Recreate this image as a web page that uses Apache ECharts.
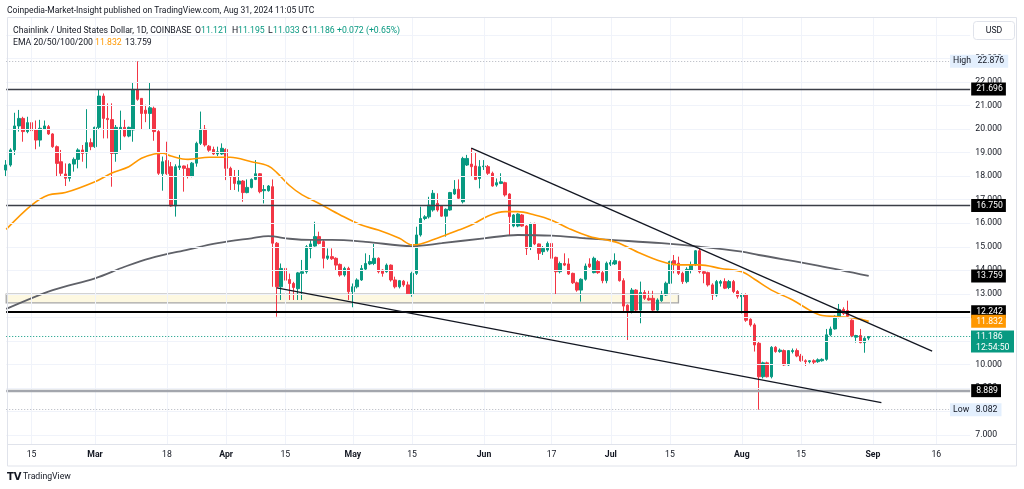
<!DOCTYPE html>
<html><head><meta charset="utf-8">
<script src="https://cdn.jsdelivr.net/npm/echarts@6/dist/echarts.min.js"></script>
<style>html,body{margin:0;padding:0;background:#fff;}#c{width:1024px;height:489px;}</style>
</head><body><div id="c"></div>
<script>
// ---------- data ----------
const startDate = '2024-02-09';
const axisDays = 229; // Feb 9 .. Sep 24 (empty space on the right)
const tickDates = ['2024-02-15','2024-03-01','2024-03-18','2024-04-01','2024-04-15','2024-05-01','2024-05-15','2024-06-01','2024-06-17','2024-07-01','2024-07-15','2024-08-01','2024-08-15','2024-09-01','2024-09-16'];

const opens = [
18.26,18.47,19.11,20.13,20.45,19.89,20.27,19.96,19.53,19.99,
20.10,19.79,19.25,18.61,18.09,17.91,18.51,18.71,19.11,18.98,
19.42,19.25,20.07,21.40,20.45,20.40,18.96,19.99,20.07,19.70,
19.96,21.68,21.30,20.80,20.66,20.88,19.89,18.10,18.66,18.40,
16.73,18.37,18.43,18.33,18.00,18.55,19.39,19.99,19.27,19.13,
18.94,18.94,19.13,18.33,17.97,17.66,17.79,17.30,17.52,17.86,
18.10,17.38,17.38,17.55,15.15,13.30,14.08,13.61,13.44,13.22,
13.87,13.94,14.93,15.03,15.43,15.22,14.51,14.58,14.51,14.25,
13.80,14.08,13.09,13.30,13.59,14.05,14.27,14.29,14.51,14.01,
13.94,14.22,13.59,13.30,13.54,13.38,13.00,13.87,15.50,16.20,
16.27,16.56,16.84,16.73,16.30,16.56,17.24,17.44,16.91,18.47,
18.51,18.43,17.90,18.40,18.40,18.12,17.62,17.69,17.72,17.24,
15.88,15.88,16.35,15.88,14.98,15.99,15.12,14.79,14.86,15.14,
14.55,13.94,14.29,14.27,13.87,13.47,13.16,13.62,14.27,13.90,
14.37,13.90,13.56,14.26,14.27,14.37,13.56,12.52,12.29,13.16,
12.31,13.06,12.81,12.81,12.31,12.71,12.95,13.45,14.41,14.30,
13.87,13.52,14.01,14.23,14.83,13.94,13.90,13.38,12.95,13.45,
13.52,13.27,13.52,13.10,12.88,12.95,11.92,11.68,10.90,9.48,
10.07,9.48,10.73,10.55,10.59,9.98,10.55,10.59,10.36,10.16,
10.12,10.16,10.12,10.16,10.22,11.26,11.51,12.03,12.34,12.29,
11.88,11.16,11.23,10.93,11.121];

const highs = [
18.68,19.18,20.69,20.81,20.52,20.52,20.55,20.36,20.39,20.36,
20.17,19.82,19.30,19.11,18.54,18.54,18.79,19.18,19.32,20.84,
19.60,20.10,21.68,21.51,21.09,21.09,20.17,20.78,20.39,20.10,
21.97,22.876,21.30,21.03,21.97,20.95,19.95,18.83,19.46,18.60,
18.50,18.90,18.45,18.50,18.60,19.46,20.74,20.17,19.32,19.25,
19.25,19.39,19.18,18.40,18.26,18.26,17.83,17.86,17.90,18.68,
18.13,17.62,17.62,17.86,15.20,14.29,14.70,13.86,13.51,13.93,
14.44,15.07,15.29,16.06,15.64,15.29,14.93,14.93,14.55,14.29,
14.15,14.15,13.44,13.66,14.22,14.72,14.65,15.12,14.55,14.04,
14.29,14.25,13.73,13.59,13.59,13.52,13.94,15.85,16.70,16.34,
17.12,17.41,17.27,16.77,16.63,17.33,17.83,17.86,18.82,18.90,
19.19,19.00,18.68,18.68,18.47,18.19,17.90,18.12,17.76,17.27,
16.39,16.42,16.39,15.92,16.02,16.02,15.14,15.03,15.22,15.17,
14.58,14.37,14.72,14.51,13.90,13.52,13.66,14.29,14.51,14.58,
14.44,14.00,14.37,14.44,14.72,14.41,13.66,12.55,13.25,13.20,
13.52,13.16,13.13,13.13,12.81,13.13,13.52,14.41,14.65,14.58,
13.94,14.13,14.37,14.86,14.93,14.01,13.94,13.45,13.59,13.59,
13.66,13.59,13.59,13.16,13.02,13.02,11.96,11.75,10.97,10.12,
10.12,10.78,10.78,10.68,10.64,10.61,10.68,10.68,10.45,10.22,
10.18,10.22,10.26,10.26,11.51,11.61,12.09,12.57,12.43,12.71,
11.92,11.26,11.51,11.16,11.195];

const lows = [
18.00,18.40,18.90,19.89,19.46,19.82,19.60,19.14,19.25,19.96,
19.75,19.20,18.00,18.00,17.58,17.77,18.19,18.33,18.61,18.33,
19.10,19.20,20.00,19.60,19.60,17.55,18.61,19.11,19.65,19.65,
19.46,21.20,19.96,20.29,19.96,19.50,18.05,17.38,18.05,16.70,
16.28,18.26,17.34,17.90,17.95,18.40,19.32,19.25,19.03,18.90,
18.85,18.90,17.83,17.41,17.41,17.34,16.91,17.27,17.48,17.83,
17.27,16.84,17.34,13.30,12.03,12.74,13.51,12.74,12.74,12.74,
12.74,13.86,14.51,15.00,15.10,14.08,14.44,14.44,14.01,13.73,
13.73,12.74,12.43,13.23,13.55,14.01,14.22,14.22,13.87,13.73,
13.90,13.52,13.23,13.23,13.30,12.95,12.88,13.80,15.43,16.13,
16.20,16.49,16.49,16.27,15.43,16.53,17.20,16.99,16.84,18.43,
17.98,17.83,17.48,18.26,18.05,17.55,17.55,17.66,17.13,15.50,
15.83,15.83,15.85,14.65,14.86,15.07,14.44,14.65,14.79,14.01,
12.95,13.87,14.18,13.80,13.42,13.09,12.67,13.56,14.10,13.87,
13.85,13.45,13.45,14.18,14.23,13.52,12.24,11.04,12.17,12.24,
11.75,12.74,12.71,12.24,12.24,12.66,12.91,13.42,13.87,13.80,
13.42,13.45,13.87,14.18,13.87,13.45,13.31,12.74,12.88,13.31,
13.20,13.20,13.03,12.80,12.17,11.81,11.61,10.55,8.082,9.41,
9.45,9.41,10.50,10.50,9.94,9.94,10.47,10.31,10.12,9.94,
10.05,10.02,10.07,10.12,10.16,11.20,11.48,11.96,12.10,12.00,
11.16,10.93,10.90,10.50,11.033];

const closes = [
18.47,19.11,20.13,20.45,19.89,20.27,19.93,19.53,20.03,20.13,
19.79,19.25,18.54,18.12,17.91,18.51,18.71,19.11,18.96,19.42,
19.25,20.07,21.40,20.45,20.40,18.96,20.07,20.07,19.70,20.07,
21.68,21.26,20.66,20.66,20.90,19.89,18.12,18.61,18.10,16.73,
18.40,18.43,18.33,18.00,18.55,19.39,19.99,19.32,19.10,18.94,
19.03,19.18,18.33,17.97,17.69,17.79,17.30,17.52,17.86,18.10,
17.34,17.43,17.58,15.15,13.30,14.08,13.58,13.44,13.27,13.89,
13.94,15.00,15.12,15.43,15.14,14.51,14.61,14.49,14.22,13.80,
14.08,13.09,13.30,13.59,14.08,14.29,14.37,14.51,13.94,13.87,
14.22,13.59,13.30,13.56,13.38,13.00,13.87,15.50,16.20,16.27,
16.77,17.27,16.56,16.30,16.59,17.30,17.44,17.06,18.75,18.75,
18.40,17.86,18.40,18.43,18.12,17.58,17.72,17.76,17.20,16.28,
16.35,16.39,15.88,14.93,15.99,15.12,14.72,14.93,15.14,14.51,
13.94,14.29,14.22,13.84,13.47,13.16,13.62,14.18,14.15,14.51,
13.90,13.56,14.30,14.33,14.41,13.56,12.48,12.29,13.16,12.31,
13.06,12.81,12.74,12.31,12.74,12.95,13.45,14.37,14.23,13.87,
13.52,14.04,14.23,14.83,13.94,13.87,13.38,12.95,13.52,13.52,
13.24,13.52,13.10,12.90,12.95,11.88,11.68,10.83,9.48,10.07,
9.48,10.73,10.55,10.61,9.98,10.59,10.59,10.36,10.16,10.12,
10.16,10.10,10.20,10.22,11.26,11.51,12.05,12.34,12.17,12.05,
11.23,11.23,10.93,11.114,11.186];

// EMA curves: [day index, value]
const emaFast = [[0,15.74],[6,16.77],[10,17.2],[14,17.3],[21,17.76],[25,18.13],[29,18.4],[32,18.76],[35,18.94],[37,18.97],[39,18.85],[43,18.71],[48,18.8],[53,18.8],[58,18.61],[62,18.43],[64,18.15],[67,17.6],[70,17.2],[74,16.84],[79,16.35],[84,15.92],[88,15.71],[93,15.36],[96,15.08],[98,15.12],[103,15.43],[107,15.71],[110,15.92],[114,16.31],[118,16.49],[121,16.49],[125,16.35],[129,16.13],[133,15.78],[138,15.43],[143,15.25],[145,15.15],[150,14.72],[155,14.37],[159,14.23],[164,14.23],[169,14.08],[174,13.94],[177,13.62],[181,13.16],[186,12.74],[190,12.31],[193,12.08],[197,12.03],[201,11.96],[204,11.832]];
const emaSlow = [[0,12.36],[11,13.16],[21,13.66],[28,14.15],[34,14.51],[43,14.88],[50,15.15],[58,15.36],[62,15.45],[67,15.34],[72,15.29],[77,15.29],[85,15.21],[96,15.03],[103,15.15],[113,15.36],[121,15.5],[129,15.47],[137,15.36],[143,15.29],[155,15.15],[164,15.0],[174,14.79],[178,14.65],[192,14.2],[204,13.759]];

const darkLevels = [21.696, 16.750];
const blackLevels = [12.242];
const grayLevels = [8.889];
const highVal = 22.876, lowVal = 8.082;
const zone = {top: 12.99, bottom: 12.62, end: '2024-07-17'};
const upperTrend = [['2024-05-29', 19.19], ['2024-09-15', 10.57]];
const lowerTrend = [['2024-04-13', 13.25], ['2024-09-03', 8.38]];
const clockText = '12:54:50';

// ---------- build ----------
const FONT = 'Roboto, "Noto Sans", sans-serif';
const FS = 8.7;
const TXT = '#131722';
const UP = '#089981', DOWN = '#f23645';
const MONTHS = ['Jan','Feb','Mar','Apr','May','Jun','Jul','Aug','Sep','Oct','Nov','Dec'];

const cats = [];
(function(){ const p = startDate.split('-').map(Number); const d0 = Date.UTC(p[0], p[1]-1, p[2]);
  for (let i = 0; i < axisDays; i++) cats.push(new Date(d0 + i*86400000).toISOString().slice(0,10)); })();
const tickSet = new Set(tickDates);
const candles = opens.map((o,i) => [o, closes[i], lows[i], highs[i]]);
const last = opens.length - 1;
const firstCat = cats[0], lastCat = cats[cats.length-1];
const paneTop = 24.76, paneBottom = 6.62;

const gridLines = [];
for (let v = 7; v <= 24; v++) gridLines.push([{coord:[firstCat, v]}, {coord:[lastCat, v]}]);
tickDates.forEach(d => gridLines.push([{coord:[d, paneTop]}, {coord:[d, paneBottom]}]));

function tag(bg, color) {
  return {show:true, position:'end', distance:1, color: color || '#fff', backgroundColor:bg,
          padding:[2,3,1,5], fontSize:FS, fontFamily:FONT, lineHeight:10};
}
const HIDDEN = {color:'rgba(0,0,0,0)', width:0};
const levelLines = [];
darkLevels.forEach(v => levelLines.push([{coord:[firstCat, v], lineStyle:{color:'#3b3e47', width:1.3, type:'solid'}, label:Object.assign(tag('#000'), {formatter: v.toFixed(3)})}, {coord:[lastCat, v]}]));
blackLevels.forEach(v => levelLines.push([{coord:[firstCat, v], lineStyle:{color:'#000', width:2, type:'solid'}, label:Object.assign(tag('#000'), {formatter: v.toFixed(3)})}, {coord:[lastCat, v]}]));
grayLevels.forEach(v => levelLines.push([{coord:[firstCat, v], lineStyle:{color:'#a3a6ad', width:2.4, type:'solid'}, label:Object.assign(tag('#000'), {formatter: v.toFixed(3)})}, {coord:[lastCat, v]}]));
// high / low markers
const hlEnd = cats[223];
levelLines.push([{coord:[firstCat, highVal], lineStyle:{color:'#b2b5be', width:1, type:[1,2]}, label:Object.assign(tag('#e3effd', TXT), {formatter:'High   ' + highVal.toFixed(3), padding:[2,4,1,3]})}, {coord:[hlEnd, highVal]}]);
levelLines.push([{coord:[firstCat, lowVal], lineStyle:{color:'#b2b5be', width:1, type:[1,2]}, label:Object.assign(tag('#e3effd', TXT), {formatter:'Low   ' + lowVal.toFixed(3), padding:[2,4,1,3]})}, {coord:[hlEnd, lowVal]}]);
// current price line
levelLines.push([{coord:[firstCat, closes[last]], lineStyle:{color:UP, width:1, type:[1,2]}, label:{show:false}}, {coord:[lastCat, closes[last]]}]);
// EMA value tags
const emaSlowLast = emaSlow[emaSlow.length-1][1], emaFastLast = emaFast[emaFast.length-1][1];
levelLines.push([{coord:[cats[227], emaSlowLast], lineStyle:HIDDEN, label:Object.assign(tag('#000'), {formatter: emaSlowLast.toFixed(3)})}, {coord:[lastCat, emaSlowLast]}]);
levelLines.push([{coord:[cats[227], emaFastLast], lineStyle:HIDDEN, label:Object.assign(tag('#ff9800'), {formatter: emaFastLast.toFixed(3)})}, {coord:[lastCat, emaFastLast]}]);
// trend lines
[upperTrend, lowerTrend].forEach(t => levelLines.push([{coord:t[0], lineStyle:{color:'#131722', width:1.3, type:'solid'}, label:{show:false}}, {coord:t[1]}]));

const chart = echarts.init(document.getElementById('c'), null, {renderer:'canvas'});
chart.setOption({
  animation:false,
  backgroundColor:'#fff',
  grid:{left:4.1, right:51.7, top:11.25, bottom:30.3, containLabel:false, outerBoundsMode:'none'},
  xAxis:{type:'category', data:cats, boundaryGap:true,
    axisLine:{show:false}, axisTick:{show:false}, splitLine:{show:false},
    axisLabel:{interval:(i, v) => tickSet.has(v), margin:-8, fontSize:FS, color:TXT, fontFamily:FONT,
      formatter: v => { const d = +v.slice(8,10), m = +v.slice(5,7); return d === 1 ? '{m|' + MONTHS[m-1] + '}' : String(d); },
      rich:{m:{fontWeight:'bold', fontSize:FS, color:TXT, fontFamily:FONT}}}},
  yAxis:{type:'value', position:'right', min:6, max:25, interval:1,
    splitLine:{show:false}, axisLine:{show:false}, axisTick:{show:false},
    axisLabel:{margin:3, fontSize:FS, color:TXT, fontFamily:FONT, formatter: v => (v < 7 || v > 24) ? '' : v.toFixed(3)}},
  series:[
    {type:'line', name:'grid', data:[], z:0, silent:true,
      markLine:{silent:true, symbol:['none','none'], animation:false, label:{show:false},
        lineStyle:{color:'#f0f3fa', width:1, type:'solid'}, data:gridLines},
      markArea:{silent:true, animation:false, itemStyle:{color:'#fdf8e1', borderColor:'#a5a5a5', borderWidth:1.3},
        data:[[{coord:[firstCat, zone.top]}, {coord:[zone.end, zone.bottom]}]]}},
    {type:'candlestick', name:'LINK', data:candles, z:2, barWidth:3, silent:true,
      itemStyle:{color:UP, color0:DOWN, borderColor:UP, borderColor0:DOWN, borderWidth:1}},
    {type:'line', name:'EMA200', data:emaSlow, smooth:0.35, showSymbol:false, silent:true, z:3,
      lineStyle:{color:'#5f6168', width:1.8}},
    {type:'line', name:'EMA50', data:emaFast, smooth:0.35, showSymbol:false, silent:true, z:3,
      lineStyle:{color:'#ff9800', width:1.6}},
    {type:'line', name:'levels', data:[], z:5, silent:true,
      markLine:{silent:true, symbol:['none','none'], animation:false, data:levelLines}}
  ]
});

// ---------- overlay text / frame ----------
const py = chart.convertToPixel({yAxisIndex:0}, closes[last]);
const t = (x, y, text, color, extra, z) => ({type:'text', x:x, y:y, z:z || 50, silent:true,
  style:Object.assign({text:text, fill:color || TXT, font: FS + 'px ' + FONT, textVerticalAlign:'middle'}, extra || {})});
const f3 = v => v.toFixed(3);
const chg = closes[last] - closes[last-1];
const pct = chg / closes[last-1] * 100;
chart.setOption({graphic:{elements:[
  {type:'rect', z:40, silent:true, shape:{x:7.5, y:17.5, width:1009, height:448.5}, style:{fill:'none', stroke:'#e0e3eb', lineWidth:1}},
  {type:'line', z:40, silent:true, shape:{x1:7.5, y1:444.5, x2:1016.5, y2:444.5}, style:{stroke:'#e0e3eb', lineWidth:1}},
  t(7, 11, 'Coinpedia-Market-Insight published on TradingView.com, Aug 31, 2024 11:05 UTC', TXT, {font:'8.5px ' + FONT}),
  t(13, 30.7, 'Chainlink / United States Dollar, 1D, COINBASE'),
  t(195, 30.7, 'O'), t(201, 30.7, f3(opens[last]), UP),
  t(232, 30.7, 'H'), t(238, 30.7, f3(highs[last]), UP),
  t(268, 30.7, 'L'), t(273, 30.7, f3(lows[last]), UP),
  t(302, 30.7, 'C'), t(308, 30.7, f3(closes[last]), UP),
  t(337, 30.7, (chg >= 0 ? '+' : '') + chg.toFixed(3) + ' (' + (pct >= 0 ? '+' : '') + pct.toFixed(2) + '%)', UP),
  t(13, 42.7, 'EMA 20/50/100/200'),
  t(95, 42.7, f3(emaFastLast), '#ff9800'),
  t(125, 42.7, f3(emaSlowLast)),
  {type:'rect', z:60, silent:true, shape:{x:973.5, y:21.5, width:41, height:18, r:3}, style:{fill:'#fff', stroke:'#e0e3eb', lineWidth:1}},
  t(994, 31, 'USD', TXT, {textAlign:'center'}, 61),
  {type:'rect', z:60, silent:true, shape:{x:971, y:py-6, width:43, height:22}, style:{fill:UP}},
  t(976, py, f3(closes[last]), '#fff', null, 61),
  t(976, py+11, clockText, '#fff', null, 61),
  t(7, 477, 'TV', TXT, {font:'900 10px "DejaVu Sans", sans-serif'}),
  t(23, 477, 'TradingView', TXT)
]}});
</script>
</body></html>
